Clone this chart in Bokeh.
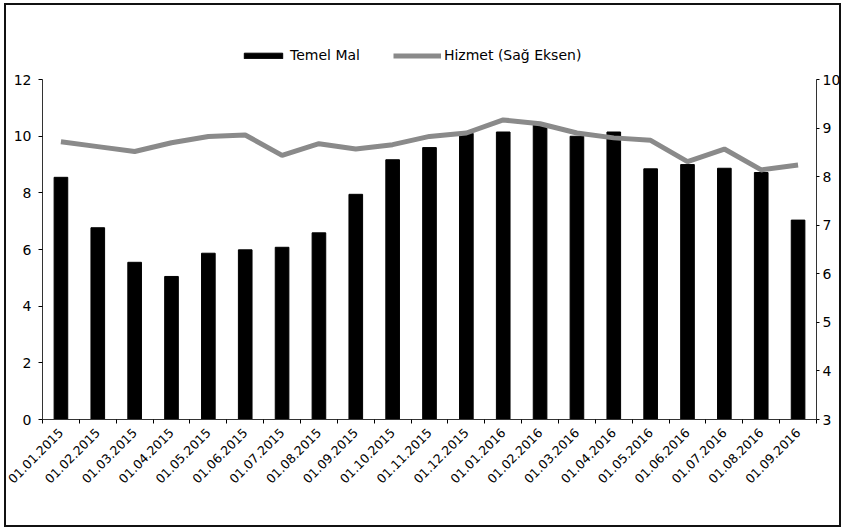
import math
import numpy as np
from bokeh.plotting import figure
from bokeh.models import Range1d, LinearAxis, FixedTicker, CustomJSTickFormatter, Legend, LegendItem
from bokeh.embed import file_html
from bokeh.resources import INLINE

labels = ["01.01.2015", "01.02.2015", "01.03.2015", "01.04.2015", "01.05.2015",
          "01.06.2015", "01.07.2015", "01.08.2015", "01.09.2015", "01.10.2015",
          "01.11.2015", "01.12.2015", "01.01.2016", "01.02.2016", "01.03.2016",
          "01.04.2016", "01.05.2016", "01.06.2016", "01.07.2016", "01.08.2016",
          "01.09.2016"]
temel_mal = [8.55, 6.77, 5.55, 5.05, 5.87, 5.99, 6.08, 6.59, 7.95, 9.17, 9.6,
             10.1, 10.15, 10.4, 10.0, 10.15, 8.85, 9.0, 8.87, 8.72, 7.04]
hizmet = [8.72, 8.62, 8.52, 8.70, 8.83, 8.86, 8.44, 8.68, 8.57, 8.66, 8.83,
          8.90, 9.17, 9.09, 8.90, 8.80, 8.75, 8.31, 8.57, 8.14, 8.24]
left_ticks = [0, 2, 4, 6, 8, 10, 12]
right_ticks = [3, 4, 5, 6, 7, 8, 9, 10]

FONT = "DejaVu Sans"
n = len(labels)
centers = (np.arange(n) + 0.5).tolist()
bounds = np.arange(n + 1).tolist()

# frame extends above the axes' top value to leave room for the legend
AXIS_PX = 339.0
FRAME_PX = 378.0
stretch = FRAME_PX / AXIS_PX
l0, l1 = left_ticks[0], left_ticks[-1]
r0, r1 = right_ticks[0], right_ticks[-1]

p = figure(width=837, height=524, output_backend="svg", toolbar_location=None,
           x_range=Range1d(0, n), y_range=Range1d(l0, l0 + (l1 - l0) * stretch),
           min_border_left=36, min_border_right=27, min_border_top=35,
           min_border_bottom=110)
p.extra_y_ranges = {"right": Range1d(r0, r0 + (r1 - r0) * stretch)}
p.grid.visible = False
p.outline_line_color = None
p.styles = {"border": "2px solid #111111", "margin-left": "4px", "margin-top": "3px"}

bars = p.vbar(x=centers, top=temel_mal, width=0.37, fill_color="black",
              line_color="black")
line = p.line(x=centers, y=hizmet, y_range_name="right", line_color="#8a8a8a",
              line_width=5)

xa = p.xaxis[0]
xa.ticker = FixedTicker(ticks=centers, minor_ticks=bounds)
xa.formatter = CustomJSTickFormatter(args=dict(labels=labels),
                                     code="return labels[Math.floor(tick)];")
xa.major_tick_out = 0
xa.major_tick_in = 0
xa.minor_tick_out = 4
xa.minor_tick_in = 0
xa.major_label_orientation = math.pi / 4
xa.major_label_text_font = FONT
xa.major_label_text_font_size = "12.5px"
xa.major_label_text_color = "black"
xa.major_label_standoff = 7
xa.axis_line_color = "#333333"

ya = p.yaxis[0]
ya.ticker = FixedTicker(ticks=left_ticks)
ya.bounds = (l0, l1)
ya.major_tick_out = 4
ya.major_tick_in = 0
ya.minor_tick_out = 0
ya.minor_tick_in = 0
ya.major_label_text_font = FONT
ya.major_label_text_font_size = "14px"
ya.major_label_text_color = "black"
ya.major_label_standoff = 7
ya.axis_line_color = "#333333"

ra = LinearAxis(y_range_name="right", ticker=FixedTicker(ticks=right_ticks),
                bounds=(r0, r1))
ra.major_tick_out = 3
ra.major_tick_in = 0
ra.minor_tick_out = 0
ra.minor_tick_in = 0
ra.major_label_text_font = FONT
ra.major_label_text_font_size = "14px"
ra.major_label_text_color = "black"
ra.major_label_standoff = 3
ra.axis_line_color = "#333333"
p.add_layout(ra, "right")

legend = Legend(items=[LegendItem(label="Temel Mal", renderers=[bars]),
                       LegendItem(label="Hizmet (Sağ Eksen)", renderers=[line])],
                orientation="horizontal", location=(197, 355),
                padding=0, margin=0, spacing=33, label_standoff=3,
                glyph_width=48, glyph_height=7, label_height=18,
                label_text_font=FONT, label_text_font_size="14px",
                label_text_color="black",
                border_line_color=None, background_fill_alpha=0)
p.add_layout(legend)

open("out.html", "w").write(file_html(p, INLINE))
